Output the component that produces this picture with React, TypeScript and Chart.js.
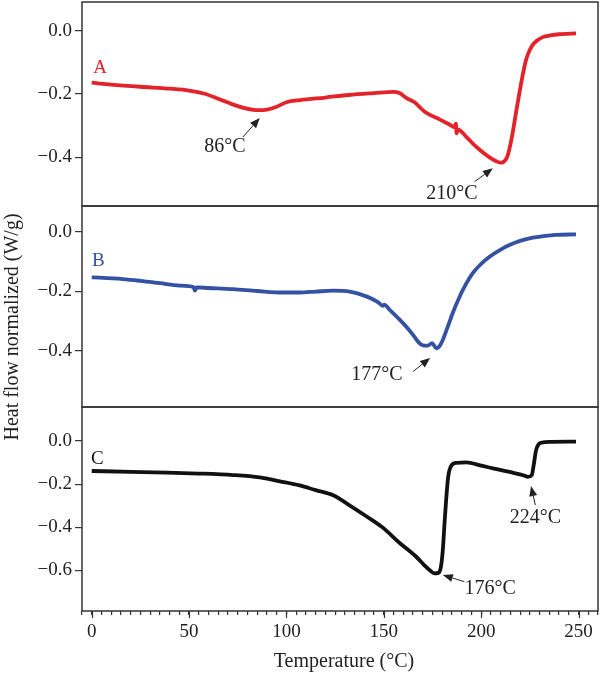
import { useEffect, useRef } from 'react';
import { Chart, registerables } from 'chart.js';

Chart.register(...registerables);

// DSC traces: temperature (°C) and normalized heat flow (W/g)
const tempA = [0, 10, 25, 40, 50, 58, 65, 72, 78, 83, 86, 90, 95, 100, 107, 120, 132, 145, 155, 158, 161.5, 165.8, 171, 178.6, 183, 186.5, 187, 187.4, 188, 192, 196, 200, 204.3, 208, 210, 212, 213.6, 215, 216.2, 218, 219.6, 221.5, 223, 225, 227, 231.6, 236, 240, 248.7];
const flowA = [-0.164, -0.170, -0.177, -0.183, -0.189, -0.199, -0.215, -0.232, -0.244, -0.250, -0.251, -0.249, -0.240, -0.226, -0.219, -0.211, -0.203, -0.197, -0.193, -0.197, -0.212, -0.226, -0.256, -0.280, -0.294, -0.305, -0.294, -0.324, -0.312, -0.333, -0.358, -0.380, -0.400, -0.413, -0.417, -0.412, -0.395, -0.360, -0.322, -0.255, -0.198, -0.135, -0.093, -0.060, -0.040, -0.020, -0.014, -0.011, -0.008];

const tempB = [0, 8, 16, 25, 35, 45, 52.3, 53, 53.8, 60, 72.6, 85, 98, 106.8, 115, 124, 132.5, 141, 147, 149.5, 150.2, 153, 158, 162, 165, 168, 170, 172.6, 174.8, 177, 178.5, 180.3, 183, 185.4, 188, 190.6, 195.7, 200, 204.3, 210, 214.5, 220, 226.5, 232, 238.5, 248.7];
const flowB = [-0.153, -0.156, -0.159, -0.165, -0.173, -0.181, -0.186, -0.198, -0.187, -0.189, -0.193, -0.199, -0.204, -0.204, -0.201, -0.198, -0.201, -0.217, -0.236, -0.249, -0.245, -0.262, -0.294, -0.322, -0.346, -0.372, -0.381, -0.382, -0.374, -0.391, -0.385, -0.363, -0.316, -0.273, -0.232, -0.195, -0.139, -0.108, -0.084, -0.060, -0.045, -0.031, -0.020, -0.015, -0.011, -0.009];

const tempC = [0, 20, 38.5, 55, 72.6, 86.3, 96.6, 106.8, 115, 124, 132, 141, 149.5, 158, 166.5, 171, 173.5, 176, 178, 179.3, 180.3, 181.2, 182, 183, 183.7, 185, 187.2, 192.3, 200, 206, 216.2, 222, 224, 226, 227, 228.2, 229.5, 230.8, 236, 248.7];
const flowC = [-0.139, -0.143, -0.147, -0.151, -0.158, -0.169, -0.187, -0.206, -0.228, -0.252, -0.296, -0.349, -0.402, -0.472, -0.536, -0.578, -0.599, -0.614, -0.612, -0.585, -0.506, -0.380, -0.274, -0.170, -0.135, -0.110, -0.101, -0.099, -0.114, -0.127, -0.147, -0.160, -0.166, -0.158, -0.110, -0.042, -0.015, -0.008, -0.004, -0.003];

// Axes
const xMin = -5;
const xMax = 260;
const xTickLabels = [0, 50, 100, 150, 200, 250];
const yRangeA = [-0.554, 0.091];
const yRangeB = [-0.588, 0.086];
const yRangeC = [-0.789, 0.158];
const yTicksA = [0, -0.2, -0.4];
const yTicksB = [0, -0.2, -0.4];
const yTicksC = [0, -0.2, -0.4, -0.6];

// Sample letters
const seriesNames = ['A', 'B', 'C'];
const seriesAxes = ['yA', 'yB', 'yC'];
const seriesLabelT = [4.3, 3.4, 2.9];
const seriesLabelFlow = [-0.118, -0.1, -0.085];

// Peak annotations
const peakLabels = ['86°C', '210°C', '177°C', '176°C', '224°C'];
const peakAxes = ['yA', 'yA', 'yB', 'yC', 'yC'];
const peakTextT = [68.4, 185, 146.5, 204.6, 227.8];
const peakTextFlow = [-0.368, -0.514, -0.48, -0.684, -0.354];
const peakTailT = [77.6, 196.6, 165, 191.4, 227.8];
const peakTailFlow = [-0.336, -0.477, -0.469, -0.653, -0.297];
const peakTipT = [86.3, 206, 173.8, 180.3, 225.6];
const peakTipFlow = [-0.276, -0.435, -0.424, -0.622, -0.209];

const SERIF = "'Liberation Serif', 'Times New Roman', serif";
const AXIS_COLOR = '#333333';
const TEXT_COLOR = '#222222';
const COLORS = ['#e3232a', '#3451a4', '#111111'];

const toPoints = (xs: number[], ys: number[]) => xs.map((x, i) => ({ x, y: ys[i] }));

const fmtFlow = (v: number) => (v < -1e-9 ? '\u2212' : '') + Math.abs(v).toFixed(1);

function yScale(range: number[], ticks: number[], weight: number) {
  return {
    type: 'linear' as const,
    position: 'left' as const,
    stack: 'panels',
    stackWeight: weight,
    min: range[0],
    max: range[1],
    afterBuildTicks: (s: any) => {
      s.ticks = ticks.map((value) => ({ value }));
    },
    afterFit: (s: any) => {
      s.width = 82;
      s.paddingTop = 0;
      s.paddingBottom = 0;
    },
    border: { display: false },
    grid: {
      display: true,
      drawOnChartArea: false,
      drawTicks: true,
      tickLength: 7,
      color: AXIS_COLOR,
      lineWidth: 1.2,
    },
    ticks: {
      padding: 3,
      color: TEXT_COLOR,
      font: { family: SERIF, size: 19 },
      callback: (v: any) => fmtFlow(Number(v)),
    },
  };
}

const decorations = {
  id: 'dscDecorations',
  afterDatasetsDraw(chart: any) {
    const { ctx, chartArea, scales } = chart;
    ctx.save();

    // panel frames
    ctx.strokeStyle = AXIS_COLOR;
    ctx.lineWidth = 1.5;
    for (const id of ['yA', 'yB', 'yC']) {
      const s = scales[id];
      ctx.strokeRect(chartArea.left, s.top, chartArea.right - chartArea.left, s.bottom - s.top);
    }

    // longer major ticks on the temperature axis
    const xs = scales.x;
    ctx.lineWidth = 1.2;
    for (const v of xTickLabels) {
      const px = Math.round(xs.getPixelForValue(v)) + 0.5;
      ctx.beginPath();
      ctx.moveTo(px, xs.top);
      ctx.lineTo(px, xs.top + 7);
      ctx.stroke();
    }

    // sample letters
    ctx.textAlign = 'center';
    ctx.textBaseline = 'middle';
    ctx.font = `19px ${SERIF}`;
    seriesNames.forEach((name, i) => {
      const ys = scales[seriesAxes[i]];
      ctx.fillStyle = COLORS[i];
      ctx.fillText(name, xs.getPixelForValue(seriesLabelT[i]), ys.getPixelForValue(seriesLabelFlow[i]));
    });

    // peak arrows and labels
    ctx.fillStyle = TEXT_COLOR;
    ctx.strokeStyle = TEXT_COLOR;
    ctx.font = `20px ${SERIF}`;
    peakLabels.forEach((label, i) => {
      const ys = scales[peakAxes[i]];
      const tx = xs.getPixelForValue(peakTailT[i]);
      const ty = ys.getPixelForValue(peakTailFlow[i]);
      const hx = xs.getPixelForValue(peakTipT[i]);
      const hy = ys.getPixelForValue(peakTipFlow[i]);
      const ang = Math.atan2(hy - ty, hx - tx);
      const headLen = 10;
      const headHalf = 4;
      const bx = hx - headLen * Math.cos(ang);
      const by = hy - headLen * Math.sin(ang);
      ctx.lineWidth = 1;
      ctx.beginPath();
      ctx.moveTo(tx, ty);
      ctx.lineTo(bx, by);
      ctx.stroke();
      ctx.beginPath();
      ctx.moveTo(hx, hy);
      ctx.lineTo(bx + headHalf * Math.sin(ang), by - headHalf * Math.cos(ang));
      ctx.lineTo(bx - headHalf * Math.sin(ang), by + headHalf * Math.cos(ang));
      ctx.closePath();
      ctx.fill();
      ctx.fillText(label, xs.getPixelForValue(peakTextT[i]), ys.getPixelForValue(peakTextFlow[i]));
    });

    // axis titles
    ctx.font = `20px ${SERIF}`;
    ctx.fillText('Temperature (°C)', (chartArea.left + chartArea.right) / 2 + 4, xs.bottom - 15);
    ctx.translate(13, 327);
    ctx.rotate(-Math.PI / 2);
    ctx.fillText('Heat flow normalized (W/g)', 0, 0);

    ctx.restore();
  },
};

export default function App() {
  const canvasRef = useRef<HTMLCanvasElement | null>(null);

  useEffect(() => {
    const canvas = canvasRef.current;
    if (!canvas) return;
    const line = (data: any[], color: string, axis: string) => ({
      data,
      yAxisID: axis,
      borderColor: color,
      backgroundColor: color,
      borderWidth: 3.8,
      pointRadius: 0,
      cubicInterpolationMode: 'monotone' as const,
      fill: false,
    });
    const chart = new Chart(canvas, {
      type: 'line',
      data: {
        datasets: [
          line(toPoints(tempA, flowA), COLORS[0], 'yA'),
          line(toPoints(tempB, flowB), COLORS[1], 'yB'),
          line(toPoints(tempC, flowC), COLORS[2], 'yC'),
        ],
      },
      options: {
        animation: false,
        responsive: false,
        devicePixelRatio: 1,
        parsing: false as any,
        layout: { padding: { top: 2, right: 2, left: 0, bottom: 0 } },
        plugins: { legend: { display: false }, tooltip: { enabled: false } },
        scales: {
          x: {
            type: 'linear',
            min: xMin,
            max: xMax,
            afterFit: (s: any) => {
              s.height = 66;
              s.paddingLeft = 0;
              s.paddingRight = 0;
            },
            border: { display: false },
            grid: {
              display: true,
              drawOnChartArea: false,
              drawTicks: true,
              tickLength: 4,
              color: AXIS_COLOR,
              lineWidth: 1.2,
            },
            ticks: {
              stepSize: 5,
              autoSkip: false,
              maxRotation: 0,
              padding: 6,
              color: TEXT_COLOR,
              font: { family: SERIF, size: 19 },
              callback: (v: any) => {
                const n = Math.round(Number(v));
                return xTickLabels.includes(n) ? String(n) : '';
              },
            },
          },
          yC: yScale(yRangeC, yTicksC, 204),
          yB: yScale(yRangeB, yTicksB, 201),
          yA: yScale(yRangeA, yTicksA, 204),
        },
      },
      plugins: [decorations],
    });
    return () => chart.destroy();
  }, []);

  return (
    <div style={{ position: 'absolute', left: 0, top: 0, width: 600, height: 677, background: '#fff' }}>
      <canvas ref={canvasRef} width={600} height={677} style={{ display: 'block' }} />
    </div>
  );
}
